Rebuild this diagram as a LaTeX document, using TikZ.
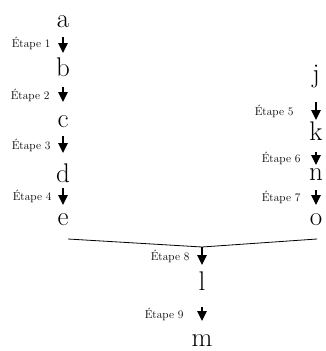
\documentclass[tikz,border=0pt]{standalone}
\usepackage{fontspec}
\usetikzlibrary{arrows.meta}
\begin{document}
\begin{tikzpicture}[x=1pt,y=-1pt,
  letter/.style={anchor=base,inner sep=0pt,font=\fontsize{27}{30}\selectfont},
  lab/.style={anchor=east,inner sep=0pt,font=\fontsize{11.5}{13}\selectfont},
  arr/.style={line width=1.2pt,-{Triangle[width=9.5pt,length=10pt]}},
  joinline/.style={line width=0.8pt}]
\useasboundingbox (0,0) rectangle (326,351);
% left column
\node[letter] (a) at (63,27) {a};
\node[letter] (b) at (63,76) {b};
\node[letter] (c) at (63,127) {c};
\node[letter] (d) at (63,182) {d};
\node[letter] (e) at (63,225) {e};
% right column
\node[letter] (j) at (316,82) {j};
\node[letter] (k) at (316,140) {k};
\node[letter] (n) at (316,180) {n};
\node[letter] (o) at (316,225) {o};
% bottom
\node[letter] (l) at (202,290) {l};
\node[letter] (m) at (202,346) {m};
\coordinate (eL) at (68,239);
\coordinate (oR) at (317,239);
\coordinate (jn) at (202,247);
% arrows left
\draw[arr] ([yshift=-10pt]a.base) -- ([yshift=23pt]b.base) node[lab,midway,xshift=-12pt,yshift=2pt] {Étape 1};
\draw[arr] ([yshift=-11pt]b.base) -- ([yshift=25pt]c.base) node[lab,midway,xshift=-13pt,yshift=-1pt] {Étape 2};
\draw[arr] ([yshift=-9pt]c.base) -- ([yshift=29pt]d.base) node[lab,midway,xshift=-12pt,yshift=-1pt] {Étape 3};
\draw[arr] ([yshift=-6pt]d.base) -- ([yshift=20pt]e.base) node[lab,midway,xshift=-11pt,yshift=0pt] {Étape 4};
% arrows right
\draw[arr] ([yshift=-20pt]j.base) -- ([yshift=20pt]k.base) node[lab,midway,xshift=-22pt,yshift=0pt] {Étape 5};
\draw[arr] ([yshift=-12pt]k.base) -- ([yshift=15pt]n.base) node[lab,midway,xshift=-15pt,yshift=0pt] {Étape 6};
\draw[arr] ([yshift=-10pt]n.base) -- ([yshift=20pt]o.base) node[lab,midway,xshift=-15pt,yshift=0pt] {Étape 7};
% join
\draw[joinline] (eL) -- (jn) -- (oR);
\draw[arr] (jn) -- ([yshift=25pt]l.base) node[lab,midway,xshift=-12pt,yshift=0pt] {Étape 8};
\draw[arr] ([yshift=-17pt]l.base) -- ([yshift=25pt]m.base) node[lab,midway,xshift=-18pt,yshift=0pt] {Étape 9};
\end{tikzpicture}
\end{document}
